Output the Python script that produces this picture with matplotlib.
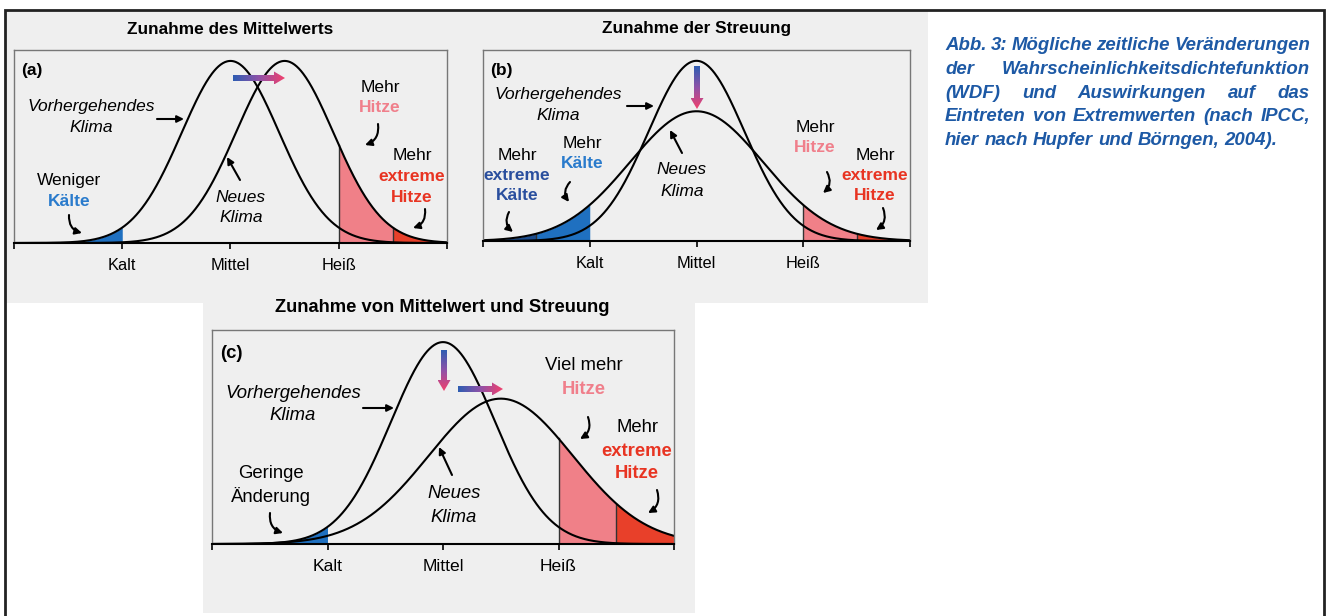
import numpy as np
import matplotlib
matplotlib.use("Agg")
import matplotlib.pyplot as plt
from matplotlib.patches import Rectangle, Polygon
from matplotlib.colors import LinearSegmentedColormap

plt.rcParams['font.family'] = ['Liberation Sans', 'DejaVu Sans']

W, H = 1327, 616

# x-Achse: Kalt / Mittel / Heiss bei -2 / 0 / 2
tick_pos = [-4, -2, 0, 2, 4]
tick_lab = ['', 'Kalt', 'Mittel', 'Heiß', '']

# Mittelwert und Streuung, jeweils (vorher, neu)
mean_a = [0.0, 1.0]
sd_a = [0.9, 0.9]
mean_b = [0.0, 0.0]
sd_b = [0.9, 1.25]
mean_c = [0.0, 1.0]
sd_c = [0.9, 1.25]

# schattierte Bereiche: (von, bis, Kurve 0=vorher/1=neu, Art)
shade_a = [(-4, -2, 0, 'kalt'), (2, 3, 1, 'hitze'), (3, 4, 1, 'extrem')]
shade_b = [(-4, -3, 1, 'extremkalt'), (-3, -2, 1, 'kalt'), (2, 3, 1, 'hitze'), (3, 4, 1, 'extrem')]
shade_c = [(-4, -2, 0, 'kalt'), (2, 3, 1, 'hitze'), (3, 4, 1, 'extrem')]

caption = ["Abb. 3: Mögliche zeitliche Veränderungen",
           "der Wahrscheinlichkeitsdichtefunktion",
           "(WDF) und Auswirkungen auf das",
           "Eintreten von Extremwerten (nach IPCC,",
           "hier nach Hupfer und Börngen, 2004)."]

fill_col = {'kalt': '#1f70c0', 'extremkalt': '#1c4d8e', 'hitze': '#f08088', 'extrem': '#e8402a'}
txt_col = {'k': 'black', 'kalt': '#2a7bcc', 'extremkalt': '#2a4f9e', 'hitze': '#f07f8b', 'extrem': '#e83422'}
grad = LinearSegmentedColormap.from_list('g', ['#2d5db2', '#8f52a8', '#f2406c'])

fig = plt.figure(figsize=(W / 100, H / 100), dpi=100)

# Hintergrund (Pixelkoordinaten)
bg = fig.add_axes([0, 0, 1, 1], zorder=-1)
bg.set_xlim(0, W)
bg.set_ylim(H, 0)
bg.axis('off')
bg.add_patch(Rectangle((6, 11), 922, 292, color='#efefef', lw=0))
bg.add_patch(Rectangle((203, 303), 492, 310, color='#efefef', lw=0))
bg.plot([5, 5, 1324, 1324], [H, 10, 10, H], color='#222222', lw=2, solid_joinstyle='miter')


def pdf(x, m, s, s0):
    return s0 / s * np.exp(-(x - m) ** 2 / (2 * s * s))


def panel(box, means, sds, shades, fs):
    l, r, t, b = box
    ax = fig.add_axes([l / W, 1 - b / H, (r - l) / W, (b - t) / H])
    ax.set_facecolor('none')
    for x0, x1, k, c in shades:
        xs = np.linspace(x0, x1, 100)
        ys = pdf(xs, means[k], sds[k], sds[0])
        ax.fill_between(xs, 0, ys, color=fill_col[c], lw=0)
        if x0 > -4:
            ax.plot([x0, x0], [0, ys[0]], color='#333333', lw=1)
    x = np.linspace(-4, 4, 600)
    for m, s in zip(means, sds):
        ax.plot(x, pdf(x, m, s, sds[0]), color='black', lw=1.5)
    ax.set_xlim(-4, 4)
    ax.set_ylim(0, 1.06)
    ax.set_xticks(tick_pos)
    ax.set_xticklabels(tick_lab, fontsize=fs)
    ax.set_yticks([])
    ax.tick_params(axis='x', length=4, width=1.2, pad=7)
    for sp in ['top', 'left', 'right']:
        ax.spines[sp].set_color('#777777')
        ax.spines[sp].set_linewidth(1)
    ax.spines['bottom'].set_linewidth(1.5)
    return ax


panel((14, 447, 50, 243), mean_a, sd_a, shade_a, 11.8)
panel((483, 910, 50, 241), mean_b, sd_b, shade_b, 11.8)
panel((212, 674, 330, 544), mean_c, sd_c, shade_c, 12.6)

# Overlay fuer Texte und Pfeile
ov = fig.add_axes([0, 0, 1, 1], zorder=5)
ov.set_autoscale_on(False)
ov.set_xlim(0, W)
ov.set_ylim(H, 0)
ov.axis('off')
ov.patch.set_alpha(0)


def txt(x, y, s, size=12, color='k', weight='normal', style='normal', ha='center'):
    ov.text(x, y, s, fontsize=size, color=txt_col.get(color, color), fontweight=weight,
            fontstyle=style, ha=ha, va='center')


def stack(x, y, items, size, dy):
    for i, (s, c) in enumerate(items):
        w = 'normal' if c == 'k' else 'bold'
        txt(x, y + i * dy, s, size, c, w)


def arr(x0, y0, x1, y1, rad=0.0):
    ov.annotate('', xy=(x1, y1), xytext=(x0, y0),
                arrowprops=dict(arrowstyle='-|>', color='black', lw=1.5, mutation_scale=10,
                                shrinkA=0, shrinkB=0, connectionstyle='arc3,rad=%s' % rad))


def grad_arrow(x0, y0, x1, y1, sw=3.0, hw=6.5, hl=11):
    p0, p1 = np.array([x0, y0], float), np.array([x1, y1], float)
    u = (p1 - p0) / np.hypot(*(p1 - p0))
    n = np.array([-u[1], u[0]])
    q = p1 - u * hl
    pts = [p0 + n * sw, q + n * sw, q + n * hw, p1, q - n * hw, q - n * sw, p0 - n * sw]
    poly = Polygon(pts, closed=True, fc='none', ec='none', transform=ov.transData)
    ov.add_patch(poly)
    g = np.linspace(0, 1, 256)
    if abs(u[0]) > abs(u[1]):
        im = ov.imshow(g[None, :], cmap=grad, extent=(x0, x1, y0 + hw, y0 - hw), aspect='auto', zorder=4)
    else:
        im = ov.imshow(g[:, None], cmap=grad, extent=(x0 - hw, x0 + hw, y1, y0), origin='upper',
                       aspect='auto', zorder=4)
    im.set_clip_path(poly)


# Titel
txt(230, 30, 'Zunahme des Mittelwerts', 12.4, weight='bold')
txt(696, 29, 'Zunahme der Streuung', 12.4, weight='bold')
txt(442, 308, 'Zunahme von Mittelwert und Streuung', 13.2, weight='bold')

fa, fc = 12.5, 13.3

# (a)
txt(32, 71, '(a)', 12.5, weight='bold')
txt(91, 106, 'Vorhergehendes', fa, style='italic')
txt(91, 127, 'Klima', fa, style='italic')
arr(157, 119, 184, 119)
txt(241, 197, 'Neues', fa, style='italic')
txt(241, 218, 'Klima', fa, style='italic')
arr(240, 180, 227, 157)
stack(69, 181, [('Weniger', 'k'), ('Kälte', 'kalt')], fa, 20)
arr(69, 215, 82, 233, 0.4)
stack(380, 88, [('Mehr', 'k'), ('Hitze', 'hitze')], fa, 20)
arr(378, 124, 365, 145, -0.4)
stack(412, 156, [('Mehr', 'k'), ('extreme', 'extrem'), ('Hitze', 'extrem')], fa, 20.5)
arr(425, 209, 413, 228, -0.4)
grad_arrow(233, 78, 285, 78)

# (b)
txt(501, 70, '(b)', 12.5, weight='bold')
txt(558, 95, 'Vorhergehendes', fa, style='italic')
txt(558, 115, 'Klima', fa, style='italic')
arr(627, 106, 654, 106)
txt(682, 170, 'Neues', fa, style='italic')
txt(682, 191, 'Klima', fa, style='italic')
arr(682, 153, 670, 130)
stack(517, 155, [('Mehr', 'k'), ('extreme', 'extremkalt'), ('Kälte', 'extremkalt')], fa, 20.5)
arr(509, 212, 513, 232, 0.4)
stack(582, 143, [('Mehr', 'k'), ('Kälte', 'kalt')], fa, 20)
arr(570, 182, 569, 202, 0.4)
stack(815, 127, [('Mehr', 'k'), ('Hitze', 'hitze')], fa, 20)
arr(827, 172, 823, 193, -0.4)
stack(875, 155, [('Mehr', 'k'), ('extreme', 'extrem'), ('Hitze', 'extrem')], fa, 20.5)
arr(883, 208, 876, 230, -0.4)
grad_arrow(697, 66, 697, 109)

# (c)
txt(231, 354, '(c)', 13.3, weight='bold')
txt(293, 393, 'Vorhergehendes', fc, style='italic')
txt(293, 416, 'Klima', fc, style='italic')
arr(363, 408, 394, 408)
txt(454, 494, 'Neues', fc, style='italic')
txt(454, 517, 'Klima', fc, style='italic')
arr(452, 475, 439, 447)
stack(271, 473, [('Geringe', 'k'), ('Änderung', 'k')], fc, 23)
arr(270, 513, 283, 533, 0.4)
stack(584, 366, [('Viel mehr', 'k'), ('Hitze', 'hitze')], fc, 23)
arr(588, 417, 580, 439, -0.4)
stack(637, 428, [('Mehr', 'k'), ('extreme', 'extrem'), ('Hitze', 'extrem')], fc, 23)
arr(657, 490, 648, 513, -0.4)
grad_arrow(444, 350, 444, 391)
grad_arrow(458, 389, 503, 389)

# Bildunterschrift, Blocksatz
renderer = fig.canvas.get_renderer()
cx0, cx1 = 945, 1310
for i, line in enumerate(caption):
    y = 50 + i * 23.8
    words = line.split()
    objs = [ov.text(0, y, w, fontsize=13.4, color='#1d59a5', fontweight='bold', fontstyle='italic',
                    ha='left', va='baseline') for w in words]
    ws = [o.get_window_extent(renderer).width for o in objs]
    if i < len(caption) - 1:
        gap = (cx1 - cx0 - sum(ws)) / (len(words) - 1)
    else:
        gap = ov.text(0, 0, ' ', fontsize=13.4, fontweight='bold').get_window_extent(renderer).width
    xx = cx0
    for o, w in zip(objs, ws):
        o.set_x(xx)
        xx += w + gap

fig.savefig('out.png', dpi=100)
